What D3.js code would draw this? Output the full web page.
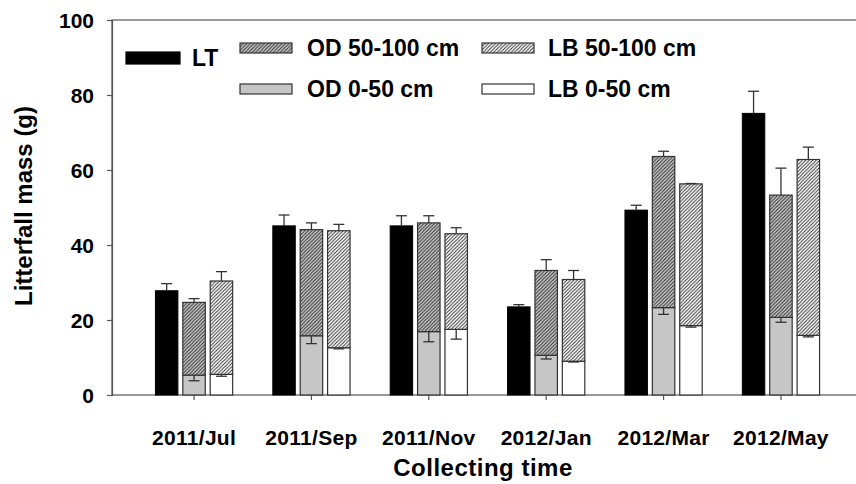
<!DOCTYPE html>
<html>
<head>
<meta charset="utf-8">
<script src="https://cdn.jsdelivr.net/npm/d3@7"></script>
<style>
  body { margin: 0; background: #fff; }
  text { font-family: "Liberation Sans", Arial, sans-serif; font-weight: bold; fill: #000; }
</style>
</head>
<body>
<div id="chart"></div>
<script>
// collecting months
const categories = ["2011/Jul", "2011/Sep", "2011/Nov", "2012/Jan", "2012/Mar", "2012/May"];

// LT litterfall (g) and its SE
const ltValues = [27.8, 45.1, 45.1, 23.5, 49.3, 75.1];
const ltErr = [1.9, 2.9, 2.7, 0.6, 1.3, 5.9];

// OD layers: 0-50 cm and 50-100 cm (stacked)
const odShallow = [5.3, 15.8, 16.9, 10.6, 23.3, 20.7];
const odShallowErr = [1.5, 2.1, 2.7, 1.0, 1.8, 1.3];
const odDeep = [19.4, 28.3, 29.0, 22.6, 40.3, 32.6];
const odDeepErr = [1.0, 1.8, 1.9, 2.9, 1.4, 7.2];

// LB layers: 0-50 cm and 50-100 cm (stacked)
const lbShallow = [5.5, 12.6, 17.5, 9.0, 18.5, 15.9];
const lbShallowErr = [0.5, 0.3, 2.6, 0.2, 0.4, 0.4];
const lbDeep = [24.9, 31.2, 25.5, 21.8, 37.8, 46.9];
const lbDeepErr = [2.5, 1.7, 1.6, 2.4, 0.1, 3.3];

const yTicks = [0, 20, 40, 60, 80, 100];

const width = 856, height = 484;
const margin = { left: 112, top: 20, right: -7, bottom: 89 };

const svg = d3.select("#chart").append("svg")
  .attr("width", width)
  .attr("height", height);

const defs = svg.append("defs");
function hatch(id, bg) {
  const s = 3.5;
  const p = defs.append("pattern")
    .attr("id", id)
    .attr("patternUnits", "userSpaceOnUse")
    .attr("width", s)
    .attr("height", s);
  p.append("rect").attr("width", s).attr("height", s).attr("fill", bg);
  p.append("path")
    .attr("d", `M-1,1 L1,-1 M0,${s} L${s},0 M${s - 1},${s + 1} L${s + 1},${s - 1}`)
    .attr("stroke", "#2a2a2a")
    .attr("stroke-width", 0.9);
}
hatch("hatchGray", "#c6c6c6");
hatch("hatchWhite", "#ffffff");

const x = d3.scaleBand()
  .domain(categories)
  .range([margin.left, width - margin.right])
  .paddingInner(0.3)
  .paddingOuter(0.349);

const sub = d3.scaleBand()
  .domain(["LT", "OD", "LB"])
  .range([0, x.bandwidth()])
  .paddingInner(0.18)
  .paddingOuter(0.09);

const y = d3.scaleLinear()
  .domain([0, 100])
  .range([height - margin.bottom, margin.top]);

// frame (right side runs past the picture edge)
svg.append("rect")
  .attr("x", margin.left)
  .attr("y", y(100))
  .attr("width", width - margin.right - margin.left)
  .attr("height", y(0) - y(100))
  .attr("fill", "none")
  .attr("stroke", "#555")
  .attr("stroke-width", 1.2);

// y axis
const yAxis = svg.append("g")
  .attr("transform", `translate(${margin.left},0)`)
  .call(d3.axisLeft(y).tickValues(yTicks).tickSize(5).tickPadding(13));
yAxis.select(".domain").attr("stroke", "#555").attr("stroke-width", 1.2);
yAxis.selectAll(".tick line").attr("stroke", "#555").attr("stroke-width", 1.2);
yAxis.selectAll(".tick text")
  .attr("font-size", "21px")
  .attr("font-family", null)
  .attr("dy", "0.36em");

// x axis
const xAxis = svg.append("g")
  .attr("transform", `translate(0,${y(0)})`)
  .call(d3.axisBottom(x).tickSize(5).tickPadding(30));
xAxis.select(".domain").remove();
xAxis.selectAll(".tick line").attr("stroke", "#555").attr("stroke-width", 1.2);
xAxis.selectAll(".tick text")
  .attr("font-size", "21px")
  .attr("letter-spacing", "0.3px")
  .attr("font-family", null);

// stacked series
const stackKeys = ["shallow", "deep"];
const odRows = categories.map((c, i) => ({ cat: c, shallow: odShallow[i], deep: odDeep[i] }));
const lbRows = categories.map((c, i) => ({ cat: c, shallow: lbShallow[i], deep: lbDeep[i] }));
const odStack = d3.stack().keys(stackKeys)(odRows);
const lbStack = d3.stack().keys(stackKeys)(lbRows);

const barStroke = "#333";
const bars = svg.append("g");

// LT bars
bars.selectAll(".lt")
  .data(categories)
  .join("rect")
  .attr("x", (c) => x(c) + sub("LT"))
  .attr("y", (c, i) => y(ltValues[i]))
  .attr("width", sub.bandwidth())
  .attr("height", (c, i) => y(0) - y(ltValues[i]))
  .attr("fill", "#000")
  .attr("stroke", "#000");

function drawStack(stack, key, fills) {
  stack.forEach((layer, li) => {
    bars.selectAll(null)
      .data(layer)
      .join("rect")
      .attr("x", (d) => x(d.data.cat) + sub(key))
      .attr("y", (d) => y(d[1]))
      .attr("width", sub.bandwidth())
      .attr("height", (d) => y(d[0]) - y(d[1]))
      .attr("fill", fills[li])
      .attr("stroke", barStroke)
      .attr("stroke-width", 1.2);
  });
}
drawStack(odStack, "OD", ["#c6c6c6", "url(#hatchGray)"]);
drawStack(lbStack, "LB", ["#ffffff", "url(#hatchWhite)"]);

// error bars: dir = -1 up from the top, +1 down into the bar
const capW = 11;
const errs = svg.append("g")
  .attr("stroke", "#333")
  .attr("stroke-width", 1.3)
  .attr("fill", "none");
function errorBars(key, tops, errors, dir) {
  categories.forEach((c, i) => {
    const cx = x(c) + sub(key) + sub.bandwidth() / 2;
    const y0 = y(tops[i]);
    const y1 = y(tops[i] + (dir < 0 ? errors[i] : -errors[i]));
    errs.append("line").attr("x1", cx).attr("x2", cx).attr("y1", y0).attr("y2", y1);
    errs.append("line").attr("x1", cx - capW / 2).attr("x2", cx + capW / 2).attr("y1", y1).attr("y2", y1);
  });
}
errorBars("LT", ltValues, ltErr, -1);
errorBars("OD", odStack[1].map((d) => d[1]), odDeepErr, -1);
errorBars("OD", odStack[0].map((d) => d[1]), odShallowErr, 1);
errorBars("LB", lbStack[1].map((d) => d[1]), lbDeepErr, -1);
errorBars("LB", lbStack[0].map((d) => d[1]), lbShallowErr, 1);

// legend
const legendItems = [
  { label: "LT", fill: "#000", x: 126, y: 52, w: 54, h: 12, tx: 192, ty: 66 },
  { label: "OD 50-100 cm", fill: "url(#hatchGray)", x: 240, y: 43, w: 52, h: 10, tx: 307, ty: 56 },
  { label: "LB 50-100 cm", fill: "url(#hatchWhite)", x: 482, y: 43, w: 52, h: 10, tx: 548, ty: 56 },
  { label: "OD 0-50 cm", fill: "#c6c6c6", x: 240, y: 84, w: 52, h: 10, tx: 307, ty: 97 },
  { label: "LB 0-50 cm", fill: "#ffffff", x: 482, y: 84, w: 52, h: 10, tx: 548, ty: 97 }
];
const legend = svg.append("g");
legendItems.forEach((d) => {
  legend.append("rect")
    .attr("x", d.x).attr("y", d.y)
    .attr("width", d.w).attr("height", d.h)
    .attr("fill", d.fill)
    .attr("stroke", d.label === "LT" ? "#000" : barStroke)
    .attr("stroke-width", 1.2);
  legend.append("text")
    .attr("x", d.tx).attr("y", d.ty)
    .attr("font-size", "23px")
    .text(d.label);
});

// axis titles
svg.append("text")
  .attr("x", 483).attr("y", 476)
  .attr("text-anchor", "middle")
  .attr("font-size", "24px")
  .attr("letter-spacing", "0.5px")
  .text("Collecting time");

svg.append("text")
  .attr("transform", "translate(32,206) rotate(-90)")
  .attr("text-anchor", "middle")
  .attr("font-size", "24px")
  .text("Litterfall mass (g)");
</script>
</body>
</html>
